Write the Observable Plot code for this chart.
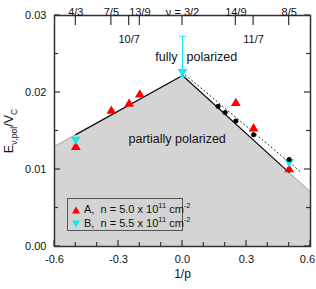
<!DOCTYPE html>
<html><head><meta charset="utf-8">
<script src="https://cdn.jsdelivr.net/npm/d3@7"></script>
<script src="https://cdn.jsdelivr.net/npm/@observablehq/plot@0.6"></script>
<style>
body{margin:0;background:#fff;font-family:"Liberation Sans",Arial,sans-serif;}
#wrap{position:relative;width:316px;height:289px;}
#legend{position:absolute;left:67px;top:198px;width:114px;height:31px;background:#d3d3d3;border:1px solid #555;font-size:11px;color:#111;}
#legend .row{position:absolute;left:4px;white-space:nowrap;line-height:12px;}
#legend sup{font-size:7.5px;vertical-align:5px;line-height:0;}
#legend svg{vertical-align:-1px;margin-right:4px;}
</style>
</head><body>
<div id="wrap"></div>
<script>
(function () {
// Data
const invP_A = [-0.5, -1/3, -0.25, -0.2, 0.25, 1/3, 0.5];
const E_A    = [0.0129, 0.0176, 0.0185, 0.0197, 0.0186, 0.0153, 0.0100];
const invP_B = [-0.5, 0, 0.5];
const E_B    = [0.0139, 0.0227, 0.0110];
const errB_x    = [0];
const errB_low  = [0.0221];
const errB_high = [0.0273];
const invP_dots = [1/6, 0.2, 0.25, 1/3, 0.5];
const E_dots    = [0.0182, 0.0174, 0.0163, 0.0145, 0.0113];
const boundaryX = [-0.6, 0, 0.6];
const boundaryY = [0.0130, 0.0222, 0.0071];
const lineX = [-0.5, 0, 0.5];
const lineY = [0.01453, 0.0222, 0.0096];
const dottedX = [0, 0.553];
const dottedY = [0.0226, 0.0097];
const topTickX = [-0.5, -1/3, -0.25, -0.2, 0, 0.25, 1/3, 0.5];
const topLabels = ["4/3", "7/5", "10/7", "13/9", "ν = 3/2", "14/9", "11/7", "8/5"];
const topBelow  = [false, false, true, false, false, false, true, false];
const xMajor = [-0.6, -0.3, 0, 0.3, 0.6];
const xMinor = [-0.5, -0.4, -0.2, -0.1, 0.1, 0.2, 0.4, 0.5];
const yMajor = [0, 0.01, 0.02, 0.03];
const yMinor = [0.005, 0.015, 0.025];

const xDom = [-0.6, 0.6], yDom = [0, 0.03];
const W = 316, H = 289, mL = 54, mR = 6, mT = 15, mB = 43;

const toXY = (xs, ys) => xs.map((x, i) => ({x, y: ys[i]}));
const A = toXY(invP_A, E_A);
const B = toXY(invP_B, E_B);
const dots = toXY(invP_dots, E_dots);
const boundary = toXY(boundaryX, boundaryY);
const bline = toXY(lineX, lineY);
const dotted = toXY(dottedX, dottedY);
const err = errB_x.map((x, i) => ({x, lo: errB_low[i], hi: errB_high[i]}));
const topT = topTickX.map((x, i) => ({x, t: topLabels[i], below: topBelow[i]}));

const triDown = {draw(ctx, size) {
  const y = Math.sqrt(size / (3 * Math.sqrt(3)));
  ctx.moveTo(0, 2 * y);
  ctx.lineTo(-Math.sqrt(3) * y, -y);
  ctx.lineTo(Math.sqrt(3) * y, -y);
  ctx.closePath();
}};
const cap = {draw(ctx, size) { ctx.moveTo(-3.5, 0); ctx.lineTo(3.5, 0); }};

const red = "#ff0000", cyan = "#18e6ee";
const ax = "#333";

const chart = Plot.plot({
  width: W, height: H,
  marginLeft: mL, marginRight: mR, marginTop: mT, marginBottom: mB,
  style: {fontFamily: "'Liberation Sans', Arial, sans-serif", fontSize: "11px", color: "#111", background: "white", overflow: "visible"},
  x: {domain: xDom, label: null},
  y: {domain: yDom, label: null},
  marks: [
    Plot.areaY(boundary, {x: "x", y: "y", fill: "#d4d4d4"}),
    Plot.line(boundary, {x: "x", y: "y", stroke: "#a8a8a8", strokeWidth: 1}),
    Plot.line(bline, {x: "x", y: "y", stroke: "#111", strokeWidth: 1.2}),
    Plot.line(dotted, {x: "x", y: "y", stroke: "#222", strokeWidth: 1, strokeDasharray: "1,3"}),
    Plot.ruleX(err, {x: "x", y1: "lo", y2: "hi", stroke: cyan, strokeWidth: 1}),
    Plot.dot(err, {x: "x", y: "hi", symbol: cap, stroke: cyan, strokeWidth: 1, fill: "none"}),
    Plot.dot(err, {x: "x", y: "lo", symbol: cap, stroke: cyan, strokeWidth: 1, fill: "none"}),
    Plot.dot(A, {x: "x", y: "y", symbol: "triangle", r: 3.6, fill: red, stroke: "none"}),
    Plot.dot(B, {x: "x", y: "y", symbol: triDown, r: 3.6, fill: cyan, stroke: "none"}),
    Plot.dot(dots, {x: "x", y: "y", r: 2.5, fill: "#000", stroke: "none"}),
    Plot.text(["fully"], {x: 0, y: 0.0246, textAnchor: "end", dx: -5, fontSize: 12.5}),
    Plot.text(["polarized"], {x: 0, y: 0.0246, textAnchor: "start", dx: 4, fontSize: 12.5}),
    Plot.text(["partially polarized"], {x: -0.025, y: 0.0140, fontSize: 12.5}),
    Plot.frame({stroke: ax, strokeWidth: 1.5}),
    // tick labels
    Plot.axisX(xMajor.slice(0, -1), {anchor: "bottom", tickSize: 0, tickPadding: 9, tickFormat: d => d.toFixed(1), label: null}),
    Plot.axisX(xMajor.slice(-1), {anchor: "bottom", tickSize: 0, tickPadding: 9, dx: -3, tickFormat: d => d.toFixed(1), label: null}),
    Plot.axisY(yMajor, {anchor: "left", tickSize: 0, tickPadding: 8, tickFormat: d => d.toFixed(2), label: null}),
    Plot.text(topT.filter(d => !d.below), {x: "x", text: "t", frameAnchor: "top", dy: -7}),
    Plot.text(topT.filter(d => d.below), {x: "x", text: "t", frameAnchor: "top", dy: 19.5}),
    Plot.text(["1/p"], {frameAnchor: "bottom", dy: 31, fontSize: 12})
  ]
});

const wrap = document.getElementById("wrap");
wrap.appendChild(chart);

const svg = d3.select(chart);
// inward ticks, positioned through the plot's own scales
const sx = chart.scale("x"), sy = chart.scale("y");
const X = v => sx.apply(v), Y = v => sy.apply(v);
const xl = X(xDom[0]), xr = X(xDom[1]), yt = Y(yDom[1]), yb = Y(yDom[0]);
const g = svg.append("g").attr("stroke", ax).attr("stroke-width", 1.2);
const seg = (x1, y1, x2, y2) => g.append("line").attr("x1", x1).attr("y1", y1).attr("x2", x2).attr("y2", y2);
xMajor.forEach(v => seg(X(v), yb, X(v), yb - 6));
xMinor.forEach(v => seg(X(v), yb, X(v), yb - 4));
topTickX.forEach(v => seg(X(v), yt, X(v), yt + 10));
yMajor.forEach(v => { seg(xl, Y(v), xl + 6, Y(v)); seg(xr, Y(v), xr - 6, Y(v)); });
yMinor.forEach(v => { seg(xl, Y(v), xl + 4, Y(v)); seg(xr, Y(v), xr - 4, Y(v)); });

// y-axis label with subscripts
const t = svg.append("text")
  .attr("transform", "translate(13,131) rotate(-90)")
  .attr("text-anchor", "middle")
  .attr("fill", "#111")
  .style("font-size", "12.5px");
t.append("tspan").text("E");
t.append("tspan").attr("dy", 3.5).style("font-size", "8.5px").text("ν,pol");
t.append("tspan").attr("dy", -3.5).text("/V");
t.append("tspan").attr("dy", 3.5).style("font-size", "8.5px").text("C");

// legend
const leg = document.createElement("div");
leg.id = "legend";
const tri = (c, down) => `<svg width="8" height="8" viewBox="0 0 8 8"><polygon points="${down ? "0,0.5 8,0.5 4,7.5" : "4,0.5 8,7.5 0,7.5"}" fill="${c}"/></svg>`;
leg.innerHTML =
  `<div class="row" style="top:4px">${tri(red, false)}A,&nbsp; n = 5.0 x 10<sup>11</sup> cm<sup>-2</sup></div>` +
  `<div class="row" style="top:18px">${tri(cyan, true)}B,&nbsp; n = 5.5 x 10<sup>11</sup> cm<sup>-2</sup></div>`;
wrap.appendChild(leg);
})();
</script>
</body></html>
